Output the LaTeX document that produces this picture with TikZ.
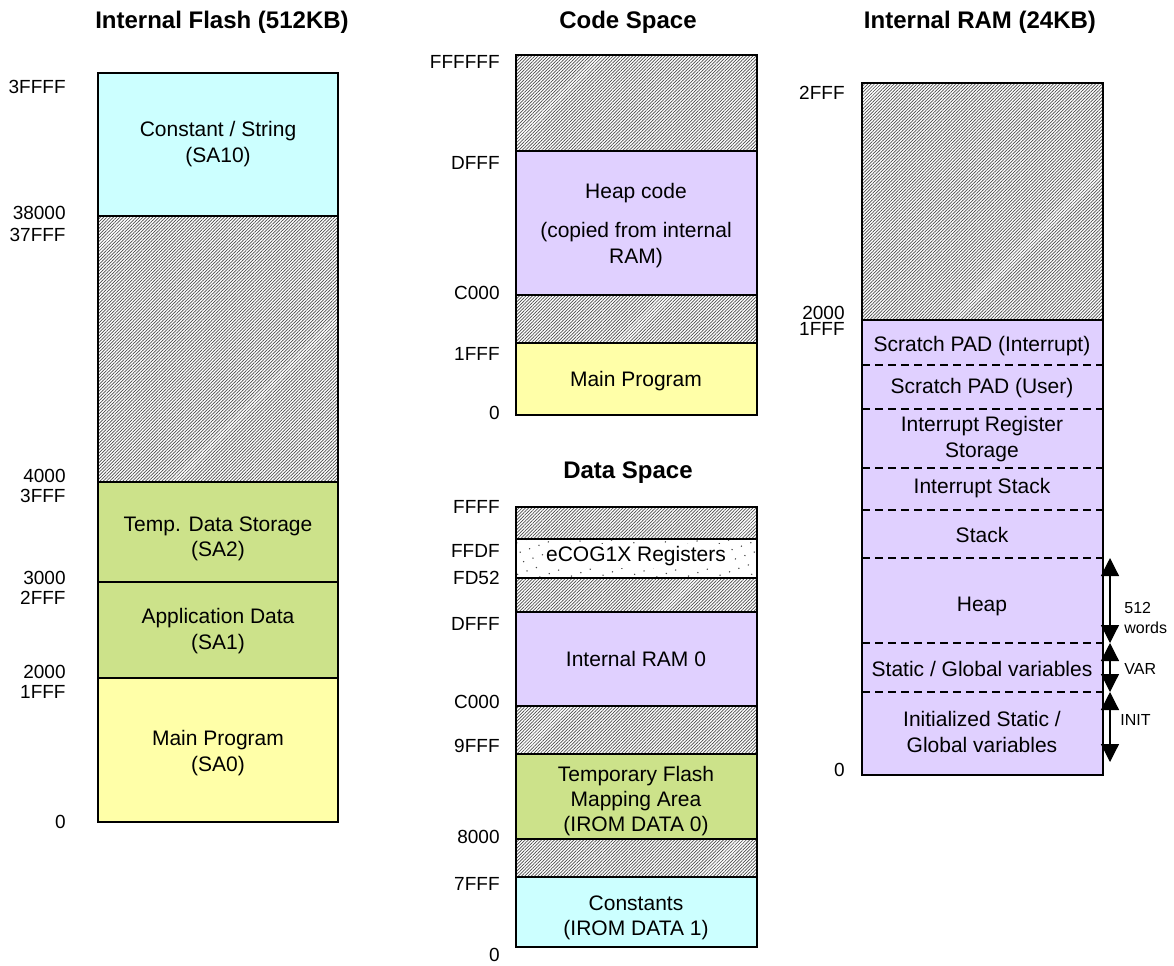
\documentclass[tikz,border=0pt]{standalone}
\usepackage{fontspec}
\setmainfont{Liberation Sans}
\usetikzlibrary{patterns.meta,arrows.meta}

\definecolor{flashcyan}{RGB}{204,255,255}
\definecolor{ramlilac}{RGB}{224,208,255}
\definecolor{datagreen}{RGB}{204,226,138}
\definecolor{progyellow}{RGB}{255,255,168}

\tikzset{
  memtitle/.style={font=\bfseries\fontsize{12}{14}\selectfont},
  addr/.style={anchor=east,inner sep=0pt,font=\fontsize{9.5}{11}\selectfont},
  txt/.style={align=center,inner sep=0pt,font=\fontsize{10.5}{12.6}\selectfont},
  small/.style={align=left,anchor=west,inner sep=0pt,font=\fontsize{8}{10}\selectfont},
  region/.style={draw,line width=0.9pt},
  hatched/.style={region,pattern={Lines[angle=45,distance=1.15pt,line width=0.35pt]},pattern color=black!70},
  dotty/.style={region,pattern={Dots[distance=5pt,radius=0.4pt,angle=20]},pattern color=black!70},
  sep/.style={dashed,dash pattern=on 4pt off 2.5pt,line width=0.6pt},
  span/.style={{Triangle[length=9pt,width=9pt]}-{Triangle[length=9pt,width=9pt]},line width=0.6pt}
}

\begin{document}
\begin{tikzpicture}[x=0.5pt,y=-0.5pt]
\useasboundingbox (0,0) rectangle (1174,965);

% Internal flash
\node[memtitle] (flashtitle) at (222,22) {Internal Flash (512KB)};
\draw[region,fill=flashcyan] (98,73) rectangle (338,216);
\draw[hatched] (98,216) rectangle (338,482);
\draw[region,fill=datagreen] (98,482) rectangle (338,582);
\draw[region,fill=datagreen] (98,582) rectangle (338,678);
\draw[region,fill=progyellow] (98,678) rectangle (338,822);
\node[txt] (fconst) at (218,144) {Constant / String\\(SA10)};
\node[txt] (ftemp) at (218,539) {Temp. Data Storage\\(SA2)};
\node[txt] (fapp) at (218,631) {Application Data\\(SA1)};
\node[txt] (fmain) at (218,753) {Main Program\\(SA0)};
\node[addr] (fa1) at (66,87) {3FFFF};
\node[addr] (fa2) at (66,213) {38000};
\node[addr] (fa3) at (66,235) {37FFF};
\node[addr] (fa4) at (66,476) {4000};
\node[addr] (fa5) at (66,496) {3FFF};
\node[addr] (fa6) at (66,578) {3000};
\node[addr] (fa7) at (66,598) {2FFF};
\node[addr] (fa8) at (66,672) {2000};
\node[addr] (fa9) at (66,692) {1FFF};
\node[addr] (fa10) at (66,822) {0};

% Code space
\node[memtitle] (codetitle) at (628,22) {Code Space};
\draw[hatched] (516,55) rectangle (757,151);
\draw[region,fill=ramlilac] (516,151) rectangle (757,295);
\draw[hatched] (516,295) rectangle (757,343);
\draw[region,fill=progyellow] (516,343) rectangle (757,415);
\node[txt] (cheap) at (636,193) {Heap code};
\node[txt] (ccopy) at (636,245) {(copied from internal\\RAM)};
\node[txt] (cmain) at (636,381) {Main Program};
\node[addr] (ca1) at (500,62) {FFFFFF};
\node[addr] (ca2) at (500,163) {DFFF};
\node[addr] (ca3) at (500,293) {C000};
\node[addr] (ca4) at (500,354) {1FFF};
\node[addr] (ca5) at (500,413) {0};

% Data space
\node[memtitle] (datatitle) at (628,473) {Data Space};
\draw[hatched] (516,507) rectangle (757,539);
\draw[dotty] (516,539) rectangle (757,578);
\draw[hatched] (516,578) rectangle (757,612);
\draw[region,fill=ramlilac] (516,612) rectangle (757,706);
\draw[hatched] (516,706) rectangle (757,754);
\draw[region,fill=datagreen] (516,754) rectangle (757,839);
\draw[hatched] (516,839) rectangle (757,877);
\draw[region,fill=flashcyan] (516,877) rectangle (757,947);
\node[txt,fill=white,inner sep=1pt] (dregs) at (636,556) {eCOG1X Registers};
\node[txt] (dram) at (636,659) {Internal RAM 0};
\node[txt] (dtemp) at (636,801) {Temporary Flash\\Mapping Area\\(IROM DATA 0)};
\node[txt] (dconst) at (636,918) {Constants\\(IROM DATA 1)};
\node[addr] (da1) at (500,507) {FFFF};
\node[addr] (da2) at (500,551) {FFDF};
\node[addr] (da3) at (500,578) {FD52};
\node[addr] (da4) at (500,624) {DFFF};
\node[addr] (da5) at (500,702) {C000};
\node[addr] (da6) at (500,746) {9FFF};
\node[addr] (da7) at (500,837) {8000};
\node[addr] (da8) at (500,884) {7FFF};
\node[addr] (da9) at (500,955) {0};

% Internal RAM
\node[memtitle] (ramtitle) at (980,22) {Internal RAM (24KB)};
\draw[hatched] (862,83) rectangle (1103,320);
\draw[region,fill=ramlilac] (862,320) rectangle (1103,775);
\foreach \yy in {365,409,468,510,558,643,692}
  \draw[sep] (862,\yy) -- (1103,\yy);
\node[txt] (rpadi) at (982,346) {Scratch PAD (Interrupt)};
\node[txt] (rpadu) at (982,388) {Scratch PAD (User)};
\node[txt] (rregs) at (982,439) {Interrupt Register\\Storage};
\node[txt] (rist) at (982,488) {Interrupt Stack};
\node[txt] (rstack) at (982,535) {Stack};
\node[txt] (rheap) at (982,606) {Heap};
\node[txt] (rvar) at (982,669) {Static / Global variables};
\node[txt] (rinit) at (982,732) {Initialized Static /\\Global variables};
\node[addr] (ra1) at (845,93) {2FFF};
\node[addr] (ra2) at (845,313) {2000};
\node[addr] (ra3) at (845,329) {1FFF};
\node[addr] (ra4) at (845,770) {0};

% sizes
\coordinate (s1) at (1110,558);
\coordinate (s2) at (1110,643);
\coordinate (s3) at (1110,692);
\coordinate (s4) at (1110,762);
\draw[span] (s1) -- (s2);
\draw[span] (s2) -- (s3);
\draw[span] (s3) -- (s4);
\node[small] (wlab) at (1124,618) {512\\words};
\node[small] (vlab) at (1124,669) {VAR};
\node[small] (ilab) at (1120,720) {INIT};
\end{tikzpicture}
\end{document}
